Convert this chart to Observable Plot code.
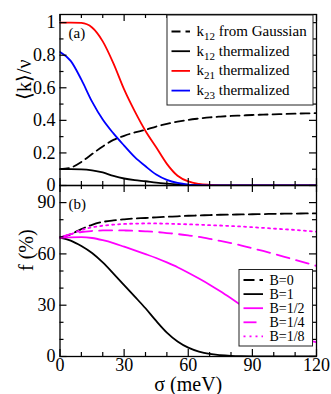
<!DOCTYPE html>
<html><head><meta charset="utf-8">
<script src="https://cdn.jsdelivr.net/npm/d3@7"></script>
<script src="https://cdn.jsdelivr.net/npm/@observablehq/plot@0.6"></script>
<style>
body{margin:0;background:#fff;}
#chart{position:relative;width:331px;height:394px;font-family:'Liberation Serif',serif;}
#chart svg{position:absolute;left:0;overflow:visible;}
</style></head><body><div id="chart"></div>
<script>
// ---- data ----
const sigma = [0,5,10,15,20,25,30,35,40,45,50,55,60,65,70,75,80,85,90,95,100,105,110,115,120];
// panel (a): <k>/nu
const k12Gauss = [0.100,0.110,0.145,0.193,0.240,0.280,0.305,0.326,0.342,0.362,0.378,0.392,0.403,0.411,0.418,0.423,0.427,0.430,0.433,0.435,0.437,0.439,0.441,0.443,0.444];
const k12Therm = [0.100,0.100,0.099,0.093,0.080,0.059,0.043,0.033,0.026,0.018,0.012,0.007,0.004,0.002,0.001,0,0,0,0,0,0,0,0,0,0];
const k21Therm = [1,1,0.998,0.97,0.885,0.75,0.59,0.455,0.335,0.235,0.133,0.06,0.025,0.01,0.004,0.001,0,0,0,0,0,0,0,0,0];
const k23Therm = [0.82,0.765,0.65,0.515,0.405,0.32,0.245,0.174,0.118,0.068,0.035,0.016,0.006,0.002,0.001,0,0,0,0,0,0,0,0,0,0];
// panel (b): f (%)
const fB0  = [69.5,71.5,74.5,77,78.7,79.6,80.2,80.7,81,81.4,81.7,82,82.3,82.5,82.7,82.9,83,83.1,83.2,83.3,83.4,83.5,83.6,83.65,83.7];
const fB1  = [69.5,67.8,64.6,60.5,55,48.5,41.7,35,28.2,20.8,14,8.8,5.2,2.9,1.5,0.8,0.4,0.2,0.1,0,0,0,0,0,0];
const fB12 = [69.5,69.7,69.8,69.3,68,66.3,64.2,62.1,59.9,57.6,55,52.2,49,45.6,42,38.1,34,29.8,25.6,21.6,17.9,14.8,12,10,8.3];
const fB14 = [69.5,71.5,72.8,73.4,73.7,73.8,73.7,73.5,73.2,72.8,72.2,71.6,70.8,69.9,68.8,67.6,66.3,64.9,63.3,61.7,60,58.3,56.5,54.8,53];
const fB18 = [69.5,71.5,74,75.5,76.5,77.1,77.5,77.7,77.8,77.8,77.7,77.5,77.3,77.1,76.8,76.6,76.3,76,75.6,75.2,74.8,74.4,74,73.5,73];
// ticks
const xMajor = [0,30,60,90,120];
const xMinor = [10,20,40,50,70,80,100,110];
const kMajor = [0,0.2,0.4,0.6,0.8,1];
const kMinor = [0.1,0.3,0.5,0.7,0.9];
const fMajor = [0,30,60,90];
const fMinor = [10,20,40,50,70,80];
// texts
const kLabel = "⟨k⟩/ν";
const fLabel = "f (%)";
const xLabel = "σ (meV)";
const legendA = [["k","12"," from Gaussian"],["k","12"," thermalized"],["k","21"," thermalized"],["k","23"," thermalized"]];
const legendB = ["B=0","B=1","B=1/2","B=1/4","B=1/8"];

// ---- styles ----
const W = 331, ML = 59.5, MR = 15;
const FW = W - ML - MR;
const font = "'Liberation Serif', serif";
const lw = 1.8;
const stylesA = [
  {stroke:"black", dash:"9,5"},
  {stroke:"black", dash:null},
  {stroke:"#ff0000", dash:null},
  {stroke:"#0000ff", dash:null}
];
const stylesB = [
  {stroke:"black", dash:"11,5"},
  {stroke:"black", dash:null},
  {stroke:"#ff00ff", dash:null},
  {stroke:"#ff00ff", dash:"13,7"},
  {stroke:"#ff00ff", dash:"2,4"}
];

function rows(ys){ return sigma.map((s,i)=>({s, v: ys[i]})); }
function curve(ys, st){
  return Plot.line(rows(ys), {x:"s", y:"v", stroke: st.stroke, strokeWidth: lw, strokeDasharray: st.dash, curve:"monotone-x", clip:true});
}
function tickMarks(xs, xm, ys, ym, FH){
  const M=7, m=4;
  return [
    Plot.tickX(xs, {x:d=>d, insetTop: FH-M, strokeWidth:1.2}),
    Plot.tickX(xm, {x:d=>d, insetTop: FH-m, strokeWidth:1.2}),
    Plot.tickX(xs, {x:d=>d, insetBottom: FH-M, strokeWidth:1.2}),
    Plot.tickX(xm, {x:d=>d, insetBottom: FH-m, strokeWidth:1.2}),
    Plot.tickY(ys, {y:d=>d, insetRight: FW-M, strokeWidth:1.2}),
    Plot.tickY(ym, {y:d=>d, insetRight: FW-m, strokeWidth:1.2}),
    Plot.tickY(ys, {y:d=>d, insetLeft: FW-M, strokeWidth:1.2}),
    Plot.tickY(ym, {y:d=>d, insetLeft: FW-m, strokeWidth:1.2})
  ];
}
function forceFont(svg){
  svg.setAttribute("font-family", font);
  d3.select(svg).selectAll("text").attr("font-family", font).style("font-family", font);
  d3.select(svg).selectAll("g").each(function(){ if (this.hasAttribute("font-family")) this.setAttribute("font-family", font); });
}

const chart = document.getElementById("chart");

// ---- panel (a) ----
const HA = 186, MTA = 14, MBA = 1;
const plotA = Plot.plot({
  width: W, height: HA, marginLeft: ML, marginRight: MR, marginTop: MTA, marginBottom: MBA,
  style: {fontSize: "18px", background: "transparent", overflow: "visible"},
  x: {domain:[0,120], axis:null},
  y: {domain:[0,1.05], axis:null},
  marks: [
    curve(k12Gauss, stylesA[0]),
    curve(k12Therm, stylesA[1]),
    curve(k21Therm, stylesA[2]),
    curve(k23Therm, stylesA[3]),
    ...tickMarks(xMajor, xMinor, kMajor, kMinor, HA-MTA-MBA),
    Plot.axisY(kMajor, {tickSize:0, tickPadding:4.5, label:null, fontSize:18, tickFormat:d=>String(d)}),
    Plot.text([kLabel], {frameAnchor:"left", dx:-29, rotate:-90, lineAnchor:"bottom", fontSize:20, text:d=>d}),
    Plot.text(["(a)"], {frameAnchor:"top-left", dx:8.5, dy:19, lineAnchor:"middle", textAnchor:"start", fontSize:15, text:d=>d}),
    Plot.frame({strokeWidth:1.3})
  ]
});
forceFont(plotA);
plotA.style.top = "0px";
chart.appendChild(plotA);

// ---- panel (b) ----
const TB = 180, HB = 214, MTB = 5, MBB = 38;
const plotB = Plot.plot({
  width: W, height: HB, marginLeft: ML, marginRight: MR, marginTop: MTB, marginBottom: MBB,
  style: {fontSize: "18px", background: "transparent", overflow: "visible"},
  x: {domain:[0,120]},
  y: {domain:[0,100]},
  marks: [
    curve(fB0, stylesB[0]),
    curve(fB1, stylesB[1]),
    curve(fB12, stylesB[2]),
    curve(fB14, stylesB[3]),
    curve(fB18, stylesB[4]),
    ...tickMarks(xMajor, xMinor, fMajor, fMinor, HB-MTB-MBB),
    Plot.axisY(fMajor, {tickSize:0, tickPadding:4.5, label:null, fontSize:18}),
    Plot.axisX(xMajor, {tickSize:0, tickPadding:2, label:null, fontSize:18}),
    Plot.text([fLabel], {frameAnchor:"left", dx:-27, rotate:-90, lineAnchor:"bottom", fontSize:20, text:d=>d}),
    Plot.text([xLabel], {frameAnchor:"bottom", dy:28, lineAnchor:"middle", fontSize:20, text:d=>d}),
    Plot.text(["(b)"], {frameAnchor:"top-left", dx:8.5, dy:19, lineAnchor:"middle", textAnchor:"start", fontSize:15, text:d=>d}),
    Plot.frame({strokeWidth:1.3})
  ]
});
forceFont(plotB);
plotB.style.top = TB + "px";
chart.appendChild(plotB);

// ---- legends (overlay) ----
const ov = d3.select(chart).append("svg")
  .attr("width", W).attr("height", 394)
  .style("top","0px").style("pointer-events","none")
  .attr("font-family", font);

function legendBox(g, x0, y0, x1, y1){
  g.append("rect").attr("x",x0).attr("y",y0).attr("width",x1-x0).attr("height",y1-y0)
   .attr("fill","white").attr("stroke","#222").attr("stroke-width",1);
}
// legend (a)
{
  const g = ov.append("g");
  legendBox(g, 167, 15, 313, 105);
  legendA.forEach((t,i)=>{
    const y = 31.5 + i*19.7, st = stylesA[i];
    g.append("line").attr("x1",171.5).attr("x2",190).attr("y1",y).attr("y2",y)
      .attr("stroke",st.stroke).attr("stroke-width",lw).attr("stroke-dasharray",st.dash);
    const tx = g.append("text").attr("x",196.5).attr("y",y+4.5).attr("font-size",15).attr("font-family", font);
    tx.append("tspan").text(t[0]);
    tx.append("tspan").attr("font-size",11).attr("dy",4).text(t[1]);
    tx.append("tspan").attr("dy",-4).text(t[2]);
  });
}
// legend (b)
{
  const g = ov.append("g");
  legendBox(g, 239, 269.5, 312.5, 346);
  legendB.forEach((t,i)=>{
    const y = 280 + i*14.1, st = stylesB[i];
    g.append("line").attr("x1",243.5).attr("x2",263).attr("y1",y).attr("y2",y)
      .attr("stroke",st.stroke).attr("stroke-width",lw).attr("stroke-dasharray",st.dash);
    g.append("text").attr("x",269.5).attr("y",y+4.5).attr("font-size",14).attr("font-family", font).text(t);
  });
}
</script></body></html>
